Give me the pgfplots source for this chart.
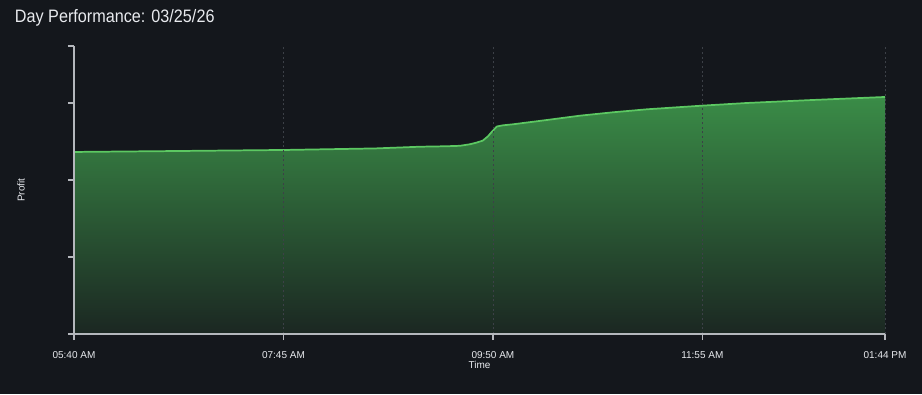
\documentclass[border=0pt]{standalone}
\usepackage{pgfplots}
\pgfplotsset{compat=1.18}
\usepackage{fontspec}
\setmainfont{Liberation Sans}
\newfontfamily\titlefont[FakeStretch=0.9]{Liberation Sans}
\definecolor{bg}{HTML}{14171C}
\definecolor{txt}{HTML}{E8EAEE}
\definecolor{axc}{HTML}{B4B7BC}
\definecolor{gridc}{HTML}{3C4047}
\definecolor{linec}{HTML}{5CC862}
\definecolor{topg}{HTML}{3A8C47}
\definecolor{botg}{HTML}{1B2722}
\pgfplotstableread{
x y
0 2.364
60 2.376
126 2.390
180 2.410
206.4 2.432
222 2.438
230.3 2.444
236.3 2.464
240.5 2.487
244 2.512
247 2.566
249.4 2.627
252.4 2.695
256 2.710
261.9 2.723
282.2 2.779
301.9 2.835
321.6 2.879
341.9 2.918
374.7 2.965
401.6 3.000
440.9 3.039
484 3.078
}\datatab
\begin{document}
\begin{tikzpicture}
\path[fill=bg] (0,0) rectangle (691.5pt,295.5pt);
\node[anchor=west, text=txt, font=\titlefont\fontsize{13.5}{15}\selectfont, inner sep=0pt] at (11pt,282pt) {Day Performance: 03/25/26};
\begin{axis}[
  at={(55.5pt,45pt)}, anchor=south west,
  scale only axis, width=608.25pt, height=216pt,
  xmin=0, xmax=484, ymin=0, ymax=3.74,
  axis lines*=left,
  axis line style={draw=axc, line width=0.9pt, -},
  xtick={0,125,250,375,484},
  xticklabels={05:40 AM,07:45 AM,09:50 AM,11:55 AM,01:44 PM},
  ytick={0,1,2,3,3.74}, yticklabels={},
  tick align=outside, major tick length=4.5pt,
  tick style={draw=axc, line width=0.9pt},
  ticklabel style={text=txt, font=\fontsize{7.5}{9}\selectfont},
  xticklabel style={yshift=-5pt},
  xmajorgrids, grid style={gridc, dash pattern=on 1.5pt off 2pt, line width=0.6pt},
  xlabel={Time}, ylabel={Profit},
  label style={text=txt, font=\fontsize{7.5}{9}\selectfont},
  xlabel style={yshift=4.5pt},
  ylabel style={yshift=22pt},
  axis on top,
  clip=false,
]
\addplot[draw=none, top color=topg, bottom color=botg] table[x=x,y=y] {\datatab} \closedcycle;
\addplot[linec, line width=1.3pt, line join=round] table[x=x,y=y] {\datatab};
\end{axis}
\end{tikzpicture}
\end{document}
